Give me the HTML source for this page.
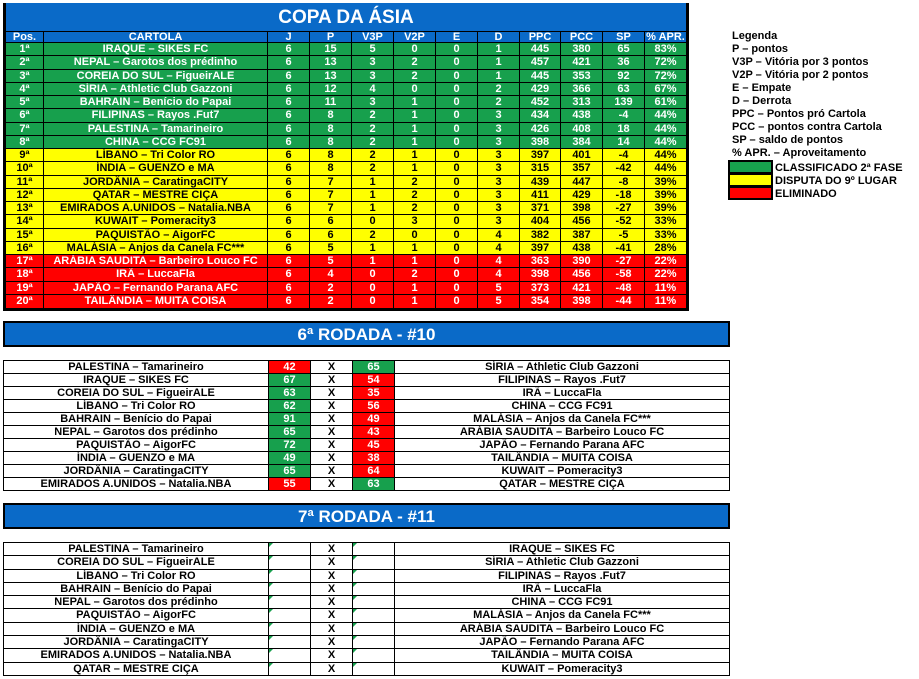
<!DOCTYPE html>
<html><head><meta charset="utf-8">
<style>
*{box-sizing:border-box;margin:0;padding:0}
body{width:919px;height:679px;background:#fff;position:relative;overflow:hidden;font-family:"Liberation Sans",Arial,sans-serif;font-weight:bold;font-size:11px}
.main{position:absolute;left:3px;top:3px;width:686px;border-left:3px solid #000;border-right:3px solid #000;border-bottom:3px solid #000;background:#0a6ac8}
.title{height:28px;line-height:30px;text-align:center;color:#fff;font-size:19px;background:#0a6ac8}
.r{display:flex;height:13.25px;border-bottom:1px solid #000}
.r span{display:block;border-right:1px solid #000;text-align:center;line-height:12px;white-space:nowrap;overflow:hidden;width:42px}
.r span:last-child{border-right:none}
.r span:nth-child(1){width:38px}
.r span:nth-child(2){width:224px}
.r span:nth-child(9),.r span:nth-child(12){width:41px}
.h{height:12px;background:#0a6ac8;color:#fff;border-top:1px solid #000}
.h span{line-height:11px}
.g{background:#17a04d;color:#fff}
.y{background:#ffff00;color:#000}
.rd{background:#ff0000;color:#fff}
.bar{position:absolute;left:3px;width:727px;height:26px;background:#0a6ac8;border:2px solid #000;color:#fff;font-size:17px;text-align:center;line-height:23px}
.m{position:absolute;left:3px;width:727px;border:1px solid #000;border-bottom:none}
.m div{display:flex;border-bottom:1px solid #000}
.m span{display:block;border-right:1px solid #000;text-align:center;white-space:nowrap;position:relative}
.m span:nth-child(1){width:265px}
.m span:nth-child(2),.m span:nth-child(3),.m span:nth-child(4){width:42px}
.m span:nth-child(5){width:334px;border-right:none}
.m span.sg{background:#17a04d;color:#fff}
.m span.sr{background:#ff0000;color:#fff}
.m span.t::before{content:"";position:absolute;left:0;top:0;border-top:4px solid #17a04d;border-right:4px solid transparent}
.leg{position:absolute;left:732px;top:30px;line-height:13px;color:#000}
.box{position:absolute;left:728px;width:45px;height:14px;border:2px solid #000}
.bt{position:absolute;left:775px;line-height:13px}
</style></head><body>
<div class="main">
<div class="title">COPA DA ÁSIA</div>
<div class="r h"><span>Pos.</span><span>CARTOLA</span><span>J</span><span>P</span><span>V3P</span><span>V2P</span><span>E</span><span>D</span><span>PPC</span><span>PCC</span><span>SP</span><span>% APR.</span></div>
<div class="r g"><span>1ª</span><span>IRAQUE – SIKES FC</span><span>6</span><span>15</span><span>5</span><span>0</span><span>0</span><span>1</span><span>445</span><span>380</span><span>65</span><span>83%</span></div>
<div class="r g"><span>2ª</span><span>NEPAL – Garotos dos prédinho</span><span>6</span><span>13</span><span>3</span><span>2</span><span>0</span><span>1</span><span>457</span><span>421</span><span>36</span><span>72%</span></div>
<div class="r g"><span>3ª</span><span>COREIA DO SUL – FigueirALE</span><span>6</span><span>13</span><span>3</span><span>2</span><span>0</span><span>1</span><span>445</span><span>353</span><span>92</span><span>72%</span></div>
<div class="r g"><span>4ª</span><span>SÍRIA – Athletic Club Gazzoni</span><span>6</span><span>12</span><span>4</span><span>0</span><span>0</span><span>2</span><span>429</span><span>366</span><span>63</span><span>67%</span></div>
<div class="r g"><span>5ª</span><span>BAHRAIN – Benício do Papai</span><span>6</span><span>11</span><span>3</span><span>1</span><span>0</span><span>2</span><span>452</span><span>313</span><span>139</span><span>61%</span></div>
<div class="r g"><span>6ª</span><span>FILIPINAS – Rayos .Fut7</span><span>6</span><span>8</span><span>2</span><span>1</span><span>0</span><span>3</span><span>434</span><span>438</span><span>-4</span><span>44%</span></div>
<div class="r g"><span>7ª</span><span>PALESTINA – Tamarineiro</span><span>6</span><span>8</span><span>2</span><span>1</span><span>0</span><span>3</span><span>426</span><span>408</span><span>18</span><span>44%</span></div>
<div class="r g"><span>8ª</span><span>CHINA – CCG FC91</span><span>6</span><span>8</span><span>2</span><span>1</span><span>0</span><span>3</span><span>398</span><span>384</span><span>14</span><span>44%</span></div>
<div class="r y"><span>9ª</span><span>LÍBANO – Tri Color RO</span><span>6</span><span>8</span><span>2</span><span>1</span><span>0</span><span>3</span><span>397</span><span>401</span><span>-4</span><span>44%</span></div>
<div class="r y"><span>10ª</span><span>ÍNDIA – GUENZO e MA</span><span>6</span><span>8</span><span>2</span><span>1</span><span>0</span><span>3</span><span>315</span><span>357</span><span>-42</span><span>44%</span></div>
<div class="r y"><span>11ª</span><span>JORDÂNIA – CaratingaCITY</span><span>6</span><span>7</span><span>1</span><span>2</span><span>0</span><span>3</span><span>439</span><span>447</span><span>-8</span><span>39%</span></div>
<div class="r y"><span>12ª</span><span>QATAR – MESTRE CIÇA</span><span>6</span><span>7</span><span>1</span><span>2</span><span>0</span><span>3</span><span>411</span><span>429</span><span>-18</span><span>39%</span></div>
<div class="r y"><span>13ª</span><span>EMIRADOS A.UNIDOS – Natalia.NBA</span><span>6</span><span>7</span><span>1</span><span>2</span><span>0</span><span>3</span><span>371</span><span>398</span><span>-27</span><span>39%</span></div>
<div class="r y"><span>14ª</span><span>KUWAIT – Pomeracity3</span><span>6</span><span>6</span><span>0</span><span>3</span><span>0</span><span>3</span><span>404</span><span>456</span><span>-52</span><span>33%</span></div>
<div class="r y"><span>15ª</span><span>PAQUISTÃO – AigorFC</span><span>6</span><span>6</span><span>2</span><span>0</span><span>0</span><span>4</span><span>382</span><span>387</span><span>-5</span><span>33%</span></div>
<div class="r y"><span>16ª</span><span>MALÁSIA –  Anjos da Canela FC***</span><span>6</span><span>5</span><span>1</span><span>1</span><span>0</span><span>4</span><span>397</span><span>438</span><span>-41</span><span>28%</span></div>
<div class="r rd"><span>17ª</span><span>ARÁBIA SAUDITA – Barbeiro Louco FC</span><span>6</span><span>5</span><span>1</span><span>1</span><span>0</span><span>4</span><span>363</span><span>390</span><span>-27</span><span>22%</span></div>
<div class="r rd"><span>18ª</span><span>IRÃ – LuccaFla</span><span>6</span><span>4</span><span>0</span><span>2</span><span>0</span><span>4</span><span>398</span><span>456</span><span>-58</span><span>22%</span></div>
<div class="r rd"><span>19ª</span><span>JAPÃO – Fernando Parana AFC</span><span>6</span><span>2</span><span>0</span><span>1</span><span>0</span><span>5</span><span>373</span><span>421</span><span>-48</span><span>11%</span></div>
<div class="r rd" style="border-bottom:none"><span>20ª</span><span>TAILÂNDIA – MUITA COISA</span><span>6</span><span>2</span><span>0</span><span>1</span><span>0</span><span>5</span><span>354</span><span>398</span><span>-44</span><span>11%</span></div>
</div>

<div class="leg">Legenda<br>P – pontos<br>V3P – Vitória por 3 pontos<br>V2P – Vitória por 2 pontos<br>E – Empate<br>D – Derrota<br>PPC – Pontos pró Cartola<br>PCC – pontos contra Cartola<br>SP – saldo de pontos<br>% APR. – Aproveitamento</div>
<div class="box" style="top:160px;background:#17a04d"></div><div class="bt" style="top:162px">CLASSIFICADO 2ª FASE</div>
<div class="box" style="top:173px;background:#ffff00"></div><div class="bt" style="top:175px">DISPUTA DO 9º LUGAR</div>
<div class="box" style="top:186px;background:#ff0000"></div><div class="bt" style="top:188px">ELIMINADO</div>

<div class="bar" style="top:321px">6ª RODADA - #10</div>
<div class="m" style="top:360px;line-height:12px">
<div><span>PALESTINA – Tamarineiro</span><span class="sr">42</span><span>X</span><span class="sg">65</span><span>SÍRIA – Athletic Club Gazzoni</span></div>
<div><span>IRAQUE – SIKES FC</span><span class="sg">67</span><span>X</span><span class="sr">54</span><span>FILIPINAS – Rayos .Fut7</span></div>
<div><span>COREIA DO SUL – FigueirALE</span><span class="sg">63</span><span>X</span><span class="sr">35</span><span>IRÃ – LuccaFla</span></div>
<div><span>LÍBANO – Tri Color RO</span><span class="sg">62</span><span>X</span><span class="sr">56</span><span>CHINA – CCG FC91</span></div>
<div><span>BAHRAIN – Benício do Papai</span><span class="sg">91</span><span>X</span><span class="sr">49</span><span>MALÁSIA –  Anjos da Canela FC***</span></div>
<div><span>NEPAL – Garotos dos prédinho</span><span class="sg">65</span><span>X</span><span class="sr">43</span><span>ARÁBIA SAUDITA – Barbeiro Louco FC</span></div>
<div><span>PAQUISTÃO – AigorFC</span><span class="sg">72</span><span>X</span><span class="sr">45</span><span>JAPÃO – Fernando Parana AFC</span></div>
<div><span>ÍNDIA – GUENZO e MA</span><span class="sg">49</span><span>X</span><span class="sr">38</span><span>TAILÂNDIA – MUITA COISA</span></div>
<div><span>JORDÂNIA – CaratingaCITY</span><span class="sg">65</span><span>X</span><span class="sr">64</span><span>KUWAIT – Pomeracity3</span></div>
<div><span>EMIRADOS A.UNIDOS – Natalia.NBA</span><span class="sr">55</span><span>X</span><span class="sg">63</span><span>QATAR – MESTRE CIÇA</span></div>
</div>

<div class="bar" style="top:503px">7ª RODADA - #11</div>
<div class="m" style="top:542px;line-height:12.3px">
<div><span>PALESTINA – Tamarineiro</span><span class="t"></span><span>X</span><span class="t"></span><span>IRAQUE – SIKES FC</span></div>
<div><span>COREIA DO SUL – FigueirALE</span><span class="t"></span><span>X</span><span class="t"></span><span>SÍRIA – Athletic Club Gazzoni</span></div>
<div><span>LÍBANO – Tri Color RO</span><span class="t"></span><span>X</span><span class="t"></span><span>FILIPINAS – Rayos .Fut7</span></div>
<div><span>BAHRAIN – Benício do Papai</span><span class="t"></span><span>X</span><span class="t"></span><span>IRÃ – LuccaFla</span></div>
<div><span>NEPAL – Garotos dos prédinho</span><span class="t"></span><span>X</span><span class="t"></span><span>CHINA – CCG FC91</span></div>
<div><span>PAQUISTÃO – AigorFC</span><span class="t"></span><span>X</span><span class="t"></span><span>MALÁSIA –  Anjos da Canela FC***</span></div>
<div><span>ÍNDIA – GUENZO e MA</span><span class="t"></span><span>X</span><span class="t"></span><span>ARÁBIA SAUDITA – Barbeiro Louco FC</span></div>
<div><span>JORDÂNIA – CaratingaCITY</span><span class="t"></span><span>X</span><span class="t"></span><span>JAPÃO – Fernando Parana AFC</span></div>
<div><span>EMIRADOS A.UNIDOS – Natalia.NBA</span><span class="t"></span><span>X</span><span class="t"></span><span>TAILÂNDIA – MUITA COISA</span></div>
<div><span>QATAR – MESTRE CIÇA</span><span class="t"></span><span>X</span><span class="t"></span><span>KUWAIT – Pomeracity3</span></div>
</div>
</body></html>
